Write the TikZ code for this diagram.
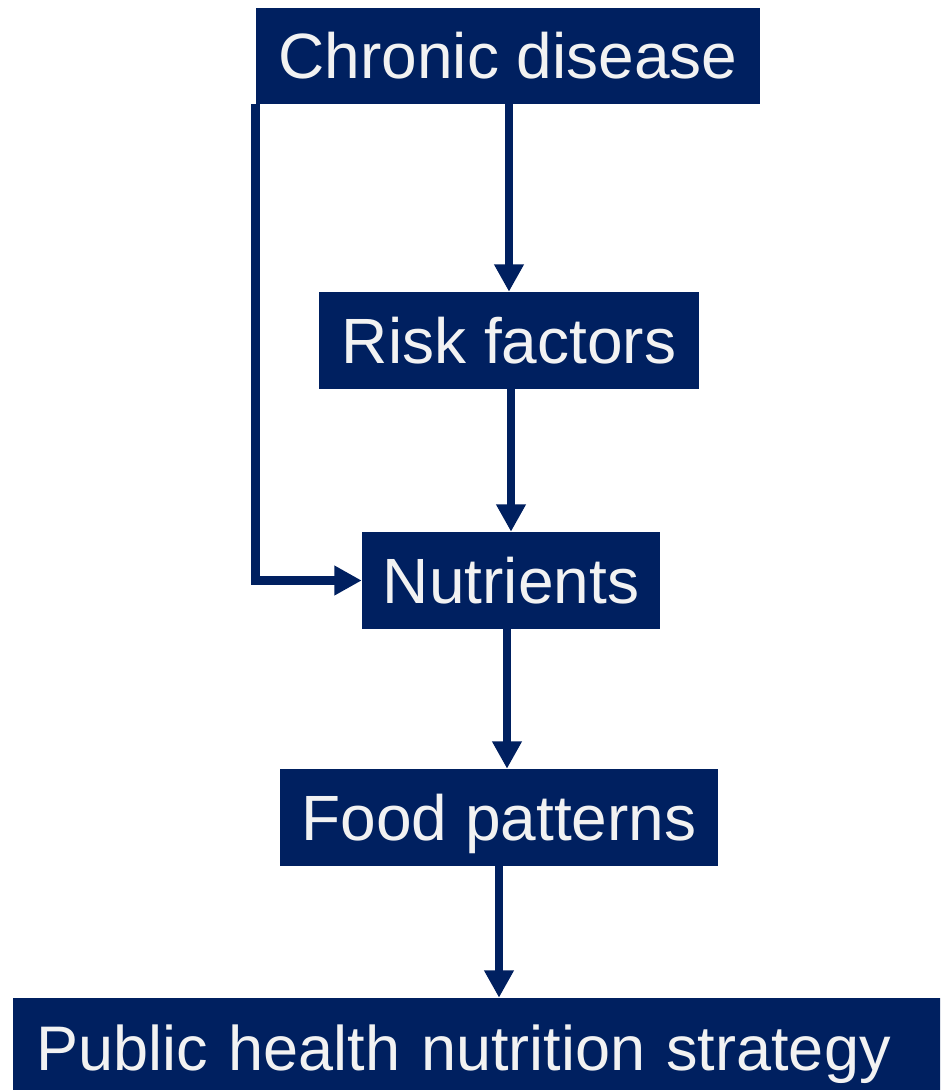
\documentclass[tikz,border=0pt]{standalone}
\usepackage{fontspec}
\setmainfont{Liberation Sans}
\usetikzlibrary{arrows.meta}
\definecolor{navy}{RGB}{0,32,96}
\definecolor{paper}{RGB}{242,242,242}
\begin{document}
\begin{tikzpicture}[x=0.75pt,y=-0.75pt,
  box/.style={fill=navy,draw=none,text=paper,inner sep=0pt,
    font=\fontsize{48pt}{57pt}\selectfont,
    text height=34.3pt,text depth=0pt},
  arr/.style={draw=navy,line width=6.4pt,
    -{Triangle[length=20.5pt,width=21pt]}}]
\clip (0,0) rectangle (940,1090);
\fill[white] (0,0) rectangle (940,1090);

% boxes
\node[box,minimum width=504*0.75pt,minimum height=96*0.75pt] (cd) at (508,56) {Chronic disease};
\node[box,minimum width=380*0.75pt,minimum height=97*0.75pt] (rf) at (509,340.5) {Risk factors};
\node[box,minimum width=298*0.75pt,minimum height=97*0.75pt] (nu) at (511,580.5) {Nutrients};
\node[box,minimum width=438*0.75pt,minimum height=97*0.75pt] (fp) at (499,817.5) {Food patterns};
\node[box,anchor=west,inner xsep=17.25pt,text width=690pt,align=left,
      font=\fontsize{47.25pt}{56pt}\selectfont,text height=33.8pt,
      minimum height=100*0.75pt] (ph) at (13,1048) {Public health nutrition strategy};

% connectors
\draw[arr] ([xshift=0.75pt]cd.south) -- ([xshift=0.75pt]cd.south |- rf.north);
\draw[arr] ([xshift=1.5pt]rf.south) -- ([xshift=1.5pt]rf.south |- nu.north);
\draw[arr] ([xshift=-3pt]nu.south) -- ([xshift=-3pt]nu.south |- fp.north);
\draw[arr] (fp.south) -- (fp.south |- ph.north);
\draw[arr] (cd.south west) -- (cd.south west |- nu.west) -- (nu.west);
\end{tikzpicture}
\end{document}
